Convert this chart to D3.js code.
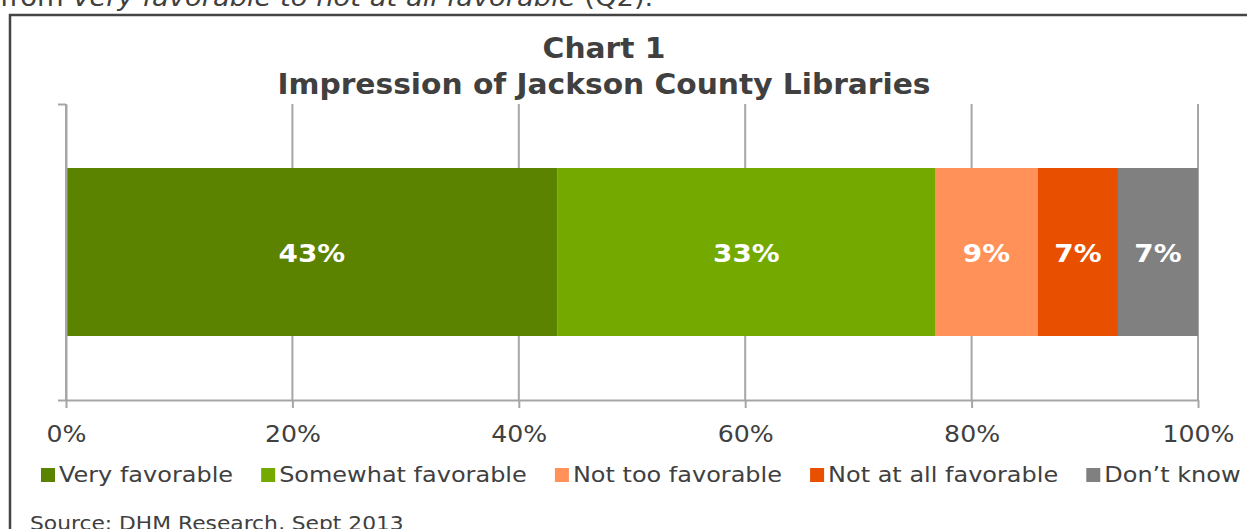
<!DOCTYPE html>
<html>
<head>
<meta charset="utf-8">
<script src="https://cdn.jsdelivr.net/npm/d3@7"></script>
<style>
  html, body { margin: 0; padding: 0; background: #fff; overflow: hidden; }
  svg { display: block; font-family: "DejaVu Sans", Verdana, sans-serif; }
</style>
</head>
<body>
<svg id="chart" width="1247" height="529"></svg>
<script>
// Survey responses (Q2), in percent
const categories = ["Very favorable", "Somewhat favorable", "Not too favorable", "Not at all favorable", "Don\u2019t know"];
const values = [43, 33, 9, 7, 7];
const colors = ["#5b8300", "#74a900", "#ff9159", "#e85000", "#808080"];
const tickValues = [0, 0.2, 0.4, 0.6, 0.8, 1.0];
const titleLines = ["Chart 1", "Impression of Jackson County Libraries"];
const sourceNote = "Source: DHM Research, Sept 2013";

const svg = d3.select("#chart");
const textColor = "#404040";
const gridColor = "#a6a6a6";

// Widen glyphs horizontally around the text's own anchor x (Verdana-like proportions)
function widen(sel, k) {
  sel.each(function () {
    const el = d3.select(this);
    const ax = +el.attr("x") || 0;
    const prev = el.attr("transform") || "";
    el.attr("transform", `${prev} translate(${ax},0) scale(${k},1) translate(${-ax},0)`);
  });
  return sel;
}

// Preceding paragraph line, clipped at the top edge
const intro = svg.append("text")
  .attr("x", 0).attr("y", 6)
  .attr("fill", textColor)
  .style("font-size", "24px");
intro.append("tspan").text("from ");
intro.append("tspan").style("font-style", "italic").text("Very favorable to not at all favorable");
intro.append("tspan").text(" (Q2).");
widen(intro, 1.14);

// Frame around the chart
svg.append("path")
  .attr("d", "M10,540 V15 H1260")
  .attr("fill", "none")
  .attr("stroke", "#444")
  .attr("stroke-width", 2.5);

// Scales
const x = d3.scaleLinear().domain([0, 1]).range([66, 1198]);
const yAxisScale = d3.scaleLinear().domain([0, 1]).range([400, 104]);
const y = d3.scaleBand().domain(["Impression"]).range([104, 400])
  .paddingInner(0.2759).paddingOuter(0.2759);

// 100% stacked layout
const total = d3.sum(values);
const segments = [];
let acc = 0;
values.forEach((v, i) => {
  segments.push({ key: categories[i], value: v, x0: acc / total, x1: (acc + v) / total, color: colors[i] });
  acc += v;
});

// Vertical gridlines
svg.append("g")
  .selectAll("line")
  .data(tickValues)
  .join("line")
  .attr("x1", d => x(d)).attr("x2", d => x(d))
  .attr("y1", yAxisScale(1)).attr("y2", yAxisScale(0))
  .attr("stroke", gridColor).attr("stroke-width", 2);

// Bars
svg.append("g")
  .selectAll("rect")
  .data(segments)
  .join("rect")
  .attr("x", d => x(d.x0))
  .attr("width", d => x(d.x1) - x(d.x0))
  .attr("y", y("Impression"))
  .attr("height", y.bandwidth())
  .attr("fill", d => d.color);

// Value labels
const valueLabels = svg.append("g")
  .selectAll("text")
  .data(segments)
  .join("text")
  .attr("x", d => (x(d.x0) + x(d.x1)) / 2)
  .attr("y", y("Impression") + y.bandwidth() / 2 + 10)
  .attr("text-anchor", "middle")
  .attr("fill", "#fff")
  .style("font-size", "24px")
  .style("font-weight", "bold")
  .text(d => d.value + "%");
widen(valueLabels, 1.16);

// Left axis
const yAxis = svg.append("g")
  .attr("transform", `translate(${x(0)},0)`)
  .call(d3.axisLeft(yAxisScale).tickValues([0, 1]).tickSize(8).tickSizeOuter(0).tickFormat(""));

// Bottom axis
const xAxis = svg.append("g")
  .attr("transform", `translate(0,${yAxisScale(0)})`)
  .call(d3.axisBottom(x).tickValues(tickValues).tickSize(8).tickSizeOuter(0).tickFormat(d3.format(".0%")));

[yAxis, xAxis].forEach(g => {
  g.select(".domain").attr("stroke", gridColor).attr("stroke-width", 2);
  g.selectAll(".tick line").attr("stroke", gridColor).attr("stroke-width", 2);
});
const tickText = xAxis.selectAll(".tick text")
  .attr("y", 42).attr("dy", 0)
  .attr("fill", textColor)
  .style("font-size", "22.5px")
  .style("font-family", "'DejaVu Sans', Verdana, sans-serif");
widen(tickText, 1.12);

// Title
const title = svg.append("g")
  .selectAll("text")
  .data(titleLines)
  .join("text")
  .attr("x", 604)
  .attr("y", (d, i) => 58 + i * 36)
  .attr("text-anchor", "middle")
  .attr("fill", textColor)
  .style("font-size", "27.5px")
  .style("font-weight", "bold")
  .text(d => d);
widen(title, 1.08);

// Legend
const legendStretch = 1.09;
const legend = svg.append("g").attr("transform", "translate(41,482)");
let lx = 0;
categories.forEach((c, i) => {
  const item = legend.append("g").attr("transform", `translate(${lx},0)`);
  item.append("rect").attr("x", 0).attr("y", -14).attr("width", 14).attr("height", 14).attr("fill", colors[i]);
  const t = item.append("text").attr("x", 18).attr("y", 0)
    .attr("fill", textColor).style("font-size", "22px").text(c);
  const w = t.node().getComputedTextLength() * legendStretch;
  widen(t, legendStretch);
  lx += 18 + w + 28;
});

// Source note
const source = svg.append("text")
  .attr("x", 30).attr("y", 530)
  .attr("fill", textColor)
  .style("font-size", "20px")
  .text(sourceNote);
widen(source, 1.09);
</script>
</body>
</html>
